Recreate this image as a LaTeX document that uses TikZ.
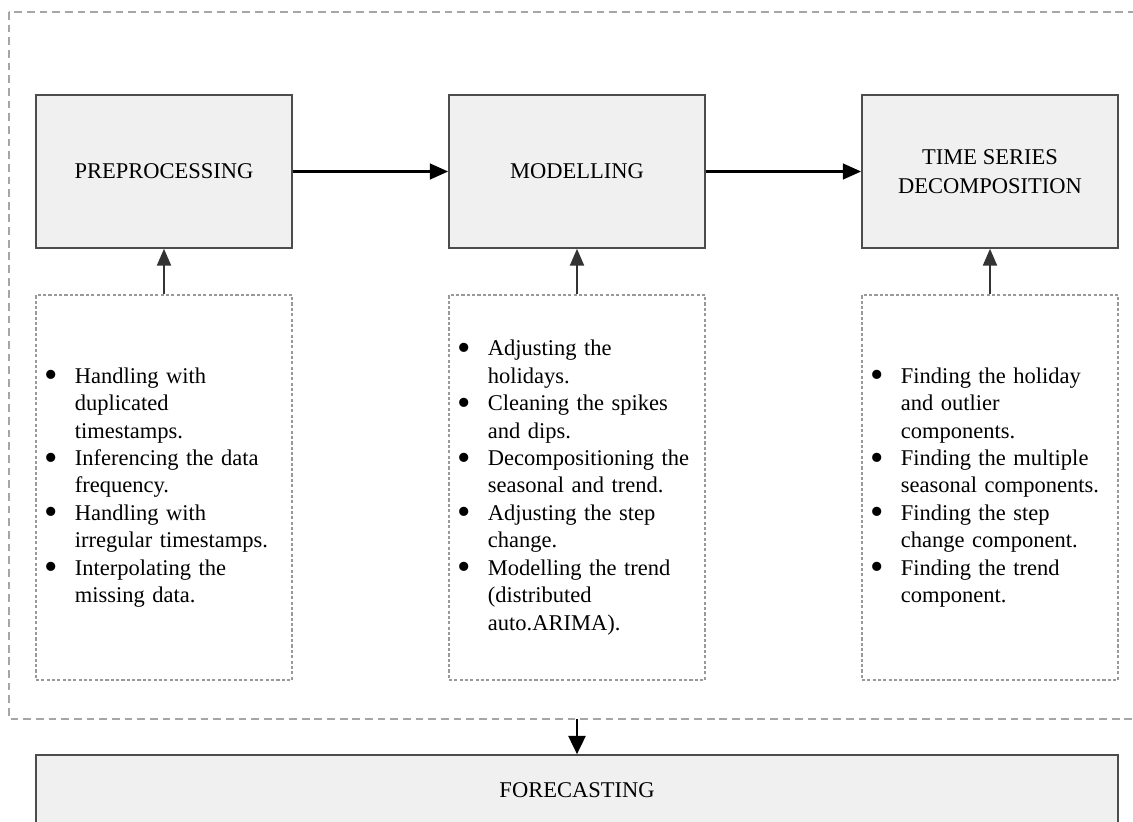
\documentclass[tikz,border=0pt]{standalone}
\usepackage{fontspec}
\setmainfont{Liberation Serif}
\usetikzlibrary{arrows.meta}

\newcommand\itemlist[1]{\begin{tabular}{@{}p{0.75cm}@{}l@{}}#1\end{tabular}}
\newcommand\bul{\raisebox{-0.2em}{\scalebox{1.7}{\textbullet}}}

\tikzset{
  stagebox/.style={draw=black!70, line width=1.1pt, fill=black!6,
    minimum width=6.4cm, minimum height=3.825cm, align=center,
    font=\fontsize{16}{20.5}\selectfont},
  notebox/.style={draw=black!40, line width=0.8pt, dash pattern=on 2.2pt off 1.6pt,
    inner xsep=0.225cm, inner ysep=0pt, text width=5.95cm,
    minimum height=9.625cm, align=left,
    font=\fontsize{16}{19.5}\selectfont},
  flowarrow/.style={line width=2.1pt, -{Triangle[length=13pt, width=11pt]}},
  feedarrow/.style={draw=black!80, line width=1.4pt, -{Triangle[length=12pt, width=10pt]}},
}

\begin{document}
\begin{tikzpicture}[x=0.025cm, y=-0.025cm]
  \useasboundingbox (0, 0) rectangle (1133, 822);
  \clip (0, 0) rectangle (1133, 822);

  % 外側の枠
  \draw[black!35, line width=1pt, dash pattern=on 5.5pt off 3.5pt]
    (9, 12) rectangle (1150, 719);
  \coordinate (outerbottom) at (577, 719);

  % 3つの段階
  \node[stagebox] (prep) at (164, 171.5) {PREPROCESSING};
  \node[stagebox] (model) at (577, 171.5) {MODELLING};
  \node[stagebox] (decomp) at (990, 171.5) {TIME SERIES\\DECOMPOSITION};

  \draw[flowarrow] (prep) -- (model);
  \draw[flowarrow] (model) -- (decomp);

  % 説明の箱
  \node[notebox] (prepnote) at (164, 487.5) {\itemlist{
    \bul & Handling with\\
         & duplicated\\
         & timestamps.\\
    \bul & Inferencing the data\\
         & frequency.\\
    \bul & Handling with\\
         & irregular timestamps.\\
    \bul & Interpolating the\\
         & missing data.}};

  \node[notebox] (modelnote) at (577, 487.5) {\itemlist{
    \bul & Adjusting the\\
         & holidays.\\
    \bul & Cleaning the spikes\\
         & and dips.\\
    \bul & Decompositioning the\\
         & seasonal and trend.\\
    \bul & Adjusting the step\\
         & change.\\
    \bul & Modelling the trend\\
         & (distributed\\
         & auto.ARIMA).}};

  \node[notebox] (decompnote) at (990, 487.5) {\itemlist{
    \bul & Finding the holiday\\
         & and outlier\\
         & components.\\
    \bul & Finding the multiple\\
         & seasonal components.\\
    \bul & Finding the step\\
         & change component.\\
    \bul & Finding the trend\\
         & component.}};

  \draw[feedarrow] (prepnote) -- (prep);
  \draw[feedarrow] (modelnote) -- (model);
  \draw[feedarrow] (decompnote) -- (decomp);

  % 予測
  \node[stagebox, minimum width=27.05cm, minimum height=1.75cm] (forecast) at (577, 790) {FORECASTING};
  \draw[line width=2pt, -{Triangle[length=13pt, width=12pt]}] (outerbottom) -- (forecast);
\end{tikzpicture}
\end{document}
